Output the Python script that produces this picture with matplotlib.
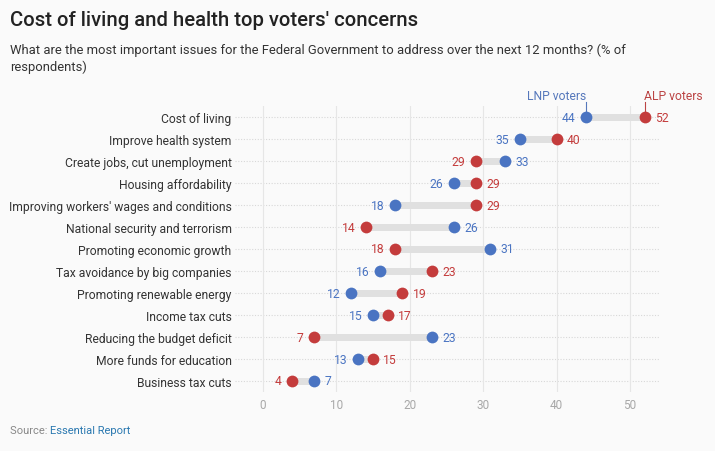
import matplotlib
matplotlib.use("Agg")
import matplotlib.pyplot as plt

categories = ["Cost of living", "Improve health system", "Create jobs, cut unemployment",
              "Housing affordability", "Improving workers' wages and conditions",
              "National security and terrorism", "Promoting economic growth",
              "Tax avoidance by big companies", "Promoting renewable energy",
              "Income tax cuts", "Reducing the budget deficit", "More funds for education",
              "Business tax cuts"]
lnp = [44, 35, 33, 26, 18, 26, 31, 16, 12, 15, 23, 13, 7]
alp = [52, 40, 29, 29, 29, 14, 18, 23, 19, 17, 7, 15, 4]
xticks = [0, 10, 20, 30, 40, 50]

BLUE = "#4a74c2"
RED = "#c43c3c"
BG = "#fafafa"
plt.rcParams['font.family'] = ['Roboto', 'DejaVu Sans']

fig = plt.figure(figsize=(7.15, 4.52), dpi=100, facecolor=BG)
ax = fig.add_axes([235/715, 1-393/452, 425/715, 286/452], facecolor=BG)
ax.set_xlim(-3.8, 54.1)
ax.set_ylim(len(categories)-0.5, -0.5)

ys = list(range(len(categories)))
for y in ys:
    ax.axhline(y, color="#d8d8d8", lw=0.8, ls=(0, (1, 1.5)), zorder=0)
for t in xticks:
    ax.axvline(t, color="#e6e6e6", lw=0.8, zorder=0)

for y, a, b in zip(ys, lnp, alp):
    ax.plot([a, b], [y, y], color="#e0e0e0", lw=5, solid_capstyle="butt", zorder=1)
ax.scatter(lnp, ys, s=72, color=BLUE, zorder=3, linewidths=0)
ax.scatter(alp, ys, s=72, color=RED, zorder=3, linewidths=0)

for y, a, b in zip(ys, lnp, alp):
    for v, c, other in ((a, BLUE, b), (b, RED, a)):
        if v <= other and not (v == other and c == RED):
            ax.annotate(str(v), (v, y), xytext=(-7.5, 0), textcoords="offset points",
                        ha="right", va="center", color=c, fontsize=8.7)
        else:
            ax.annotate(str(v), (v, y), xytext=(7.5, 0), textcoords="offset points",
                        ha="left", va="center", color=c, fontsize=8.7)

ax.set_yticks(ys)
ax.set_yticklabels(categories, fontsize=8.7, color="#333333")
ax.set_xticks(xticks)
ax.set_xticklabels([str(t) for t in xticks], fontsize=8.5, color="#a8a8a8")
ax.tick_params(axis="both", length=0)
ax.tick_params(axis="y", pad=2.5)
ax.tick_params(axis="x", pad=4)
for s in ax.spines.values():
    s.set_visible(False)

# series annotations
ax.annotate("LNP voters", (lnp[0], 0), xytext=(lnp[0] + 0.1, -0.68), textcoords="data",
            ha="right", va="bottom", color="#5577bb", fontsize=8.7,
            annotation_clip=False)
ax.annotate("ALP voters", (alp[0], 0), xytext=(alp[0] - 0.1, -0.68), textcoords="data",
            ha="left", va="bottom", color="#bb4444", fontsize=8.7,
            annotation_clip=False)
ax.plot([lnp[0], lnp[0]], [-0.68, -0.25], color="#5577bb", lw=0.8, clip_on=False, zorder=2)
ax.plot([alp[0], alp[0]], [-0.68, -0.25], color="#bb4444", lw=0.8, clip_on=False, zorder=2)

fig.text(10/715, 1-20/452, "Cost of living and health top voters' concerns", fontsize=14.6,
         fontweight=500, color="#222222", va="center", ha="left")
fig.text(10/715, 1-59/452,
         "What are the most important issues for the Federal Government to address over the next 12 months? (% of\nrespondents)",
         fontsize=9.4, color="#333333", va="center", ha="left", linespacing=1.3)
t1 = fig.text(10/715, 1-431/452, "Source: ", fontsize=8, color="#888888", va="center", ha="left")
fig.canvas.draw()
bb = t1.get_window_extent()
fig.text(bb.x1/715, 1-431/452, "Essential Report", fontsize=8, color="#2a78b0", va="center", ha="left")

fig.savefig("out.png", dpi=100, facecolor=BG)
